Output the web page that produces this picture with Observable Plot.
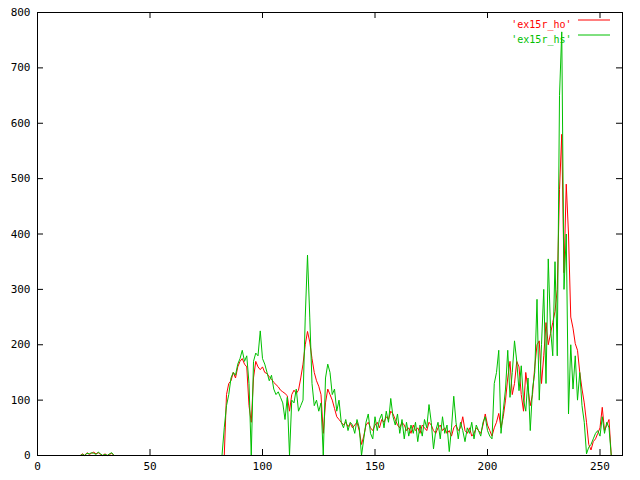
<!DOCTYPE html>
<html>
<head>
<meta charset="utf-8">
<script src="https://cdn.jsdelivr.net/npm/d3@7"></script>
<script src="https://cdn.jsdelivr.net/npm/@observablehq/plot@0.6"></script>
<style>
  html, body { margin: 0; padding: 0; background: #fff; }
</style>
</head>
<body>
<div id="chart"></div>
<script>
const seriesNames = ["'ex15r_ho'", "'ex15r_hs'"];
const seriesColors = ["#ff0000", "#00c000"];
const xTicks = [0, 50, 100, 150, 200, 250];
const yTicks = [0, 100, 200, 300, 400, 500, 600, 700, 800];

// 'ex15r_ho' values for bins 0..255
const hoValues = [
  0,0,0,0,0,0,0,0,0,0,0,0,0,0,0,0,0,0,0,0,
  3,0,5,2,4,6,3,5,2,0,3,0,2,4,0,0,0,0,0,0,
  0,0,0,0,0,0,0,0,0,0,0,0,0,0,0,0,0,0,0,0,
  0,0,0,0,0,0,0,0,0,0,0,0,0,0,0,0,0,0,0,0,
  0,0,0,0,110,130,135,150,140,160,170,175,165,160,90,60,140,170,160,155,
  160,150,148,142,138,132,128,124,118,115,112,108,80,110,118,112,118,140,165,200,
  224,205,175,150,135,125,110,40,95,120,110,100,85,70,65,60,55,60,52,58,
  50,55,60,45,20,35,55,60,50,45,55,60,50,65,60,70,65,80,75,65,
  55,50,60,55,45,50,40,55,45,50,40,55,50,45,60,55,45,40,50,55,
  45,50,40,45,35,50,55,45,50,70,45,40,50,35,40,50,45,40,55,75,
  55,45,35,50,60,76,50,70,100,140,170,110,130,170,160,110,80,150,120,90,
  110,160,200,207,130,180,240,200,220,240,260,300,480,580,330,490,400,250,230,202,
  190,150,120,95,60,20,10,25,30,40,50,87,45,55,65,0
];

// 'ex15r_hs' values for bins 0..255
const hsValues = [
  0,0,0,0,0,0,0,0,0,0,0,0,0,0,0,0,0,0,0,0,
  2,0,4,3,5,4,2,6,3,0,2,0,3,5,0,0,0,0,0,0,
  0,0,0,0,0,0,0,0,0,0,0,0,0,0,0,0,0,0,0,0,
  0,0,0,0,0,0,0,0,0,0,0,0,0,0,0,0,0,0,0,0,
  0,0,0,50,90,110,140,150,145,165,175,190,170,180,130,0,170,185,180,225,
  175,165,150,135,145,120,110,115,105,95,65,105,0,100,95,120,80,90,100,250,
  362,250,130,90,100,80,95,0,140,165,150,110,120,80,100,60,50,65,45,60,
  55,40,65,50,0,30,60,75,40,30,70,45,65,75,50,80,60,103,70,55,
  75,40,65,30,60,35,55,40,60,25,55,35,65,50,92,60,12,45,60,30,
  70,40,55,7,50,107,60,30,60,45,25,50,40,60,30,55,45,35,60,70,
  45,35,30,130,150,190,40,81,120,190,105,150,207,170,117,162,100,80,140,45,
  120,150,282,100,200,300,130,355,230,180,350,180,650,765,300,400,75,200,120,180,
  100,150,90,60,3,15,20,30,40,45,35,70,40,60,50,0
];

const W = 640, H = 480;
const mT = 12, mB = 25, mL = 37, mR = 18;
const innerH = H - mT - mB, innerW = W - mL - mR;
const tickLen = 6;

const chart = Plot.plot({
  width: W,
  height: H,
  marginTop: mT,
  marginBottom: mB,
  marginLeft: mL,
  marginRight: mR,
  style: { fontFamily: "'DejaVu Sans Mono', monospace", fontSize: "11px", color: "#000", background: "#fff" },
  x: { domain: [0, 260], label: null },
  y: { domain: [0, 800], label: null },
  marks: [
    Plot.axisX({ ticks: xTicks, tickSize: 0, tickPadding: 7, tickFormat: d => String(d), fontSize: 11 }),
    Plot.axisY({ ticks: yTicks, tickSize: 0, tickPadding: 7, tickFormat: d => String(d), fontSize: 11 }),
    // inward ticks on all four sides (gnuplot style)
    Plot.tickX(xTicks, { x: d => d, insetTop: innerH - tickLen, stroke: "#000" }),
    Plot.tickX(xTicks, { x: d => d, insetBottom: innerH - tickLen, stroke: "#000" }),
    Plot.tickY(yTicks, { y: d => d, insetRight: innerW - tickLen, stroke: "#000" }),
    Plot.tickY(yTicks, { y: d => d, insetLeft: innerW - tickLen, stroke: "#000" }),
    Plot.line(hoValues, { x: (d, i) => i, y: d => d, stroke: seriesColors[0], strokeWidth: 1, curve: "linear" }),
    Plot.line(hsValues, { x: (d, i) => i, y: d => d, stroke: seriesColors[1], strokeWidth: 1, curve: "linear" }),
    Plot.frame({ stroke: "#000", strokeWidth: 1 }),
    Plot.text([seriesNames[0]], { frameAnchor: "top-right", dx: -51, dy: 8, textAnchor: "end", fill: seriesColors[0], fontSize: 10 }),
    Plot.text([seriesNames[1]], { frameAnchor: "top-right", dx: -51, dy: 23, textAnchor: "end", fill: seriesColors[1], fontSize: 10 })
  ]
});

// legend line samples
const svg = d3.select(chart);
const rightEdge = W - mR;
[0, 1].forEach(k => {
  svg.append("line")
    .attr("x1", rightEdge - 44).attr("x2", rightEdge - 12)
    .attr("y1", mT + 8 + 15 * k).attr("y2", mT + 8 + 15 * k)
    .attr("stroke", seriesColors[k]).attr("stroke-width", 1);
});

document.getElementById("chart").appendChild(chart);
</script>
</body>
</html>
